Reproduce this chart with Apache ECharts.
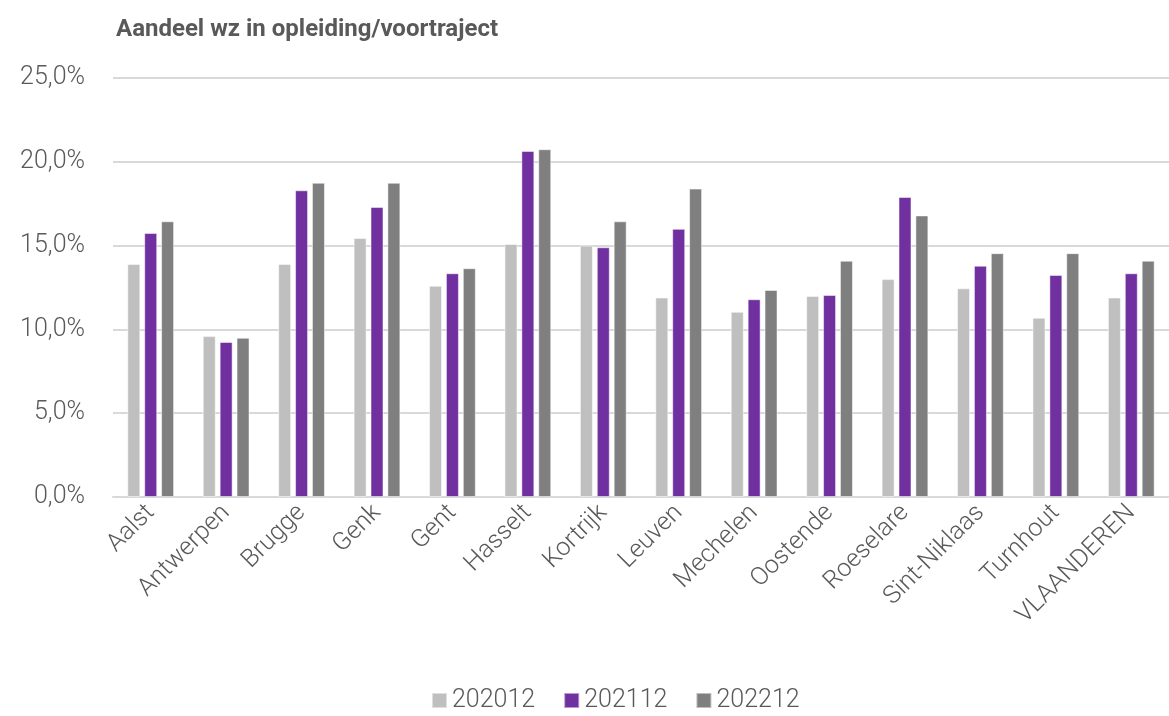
<!DOCTYPE html>
<html>
<head>
<meta charset="utf-8">
<script src="https://cdn.jsdelivr.net/npm/echarts@6/dist/echarts.min.js"></script>
<style>
  html, body { margin: 0; padding: 0; background: #fff; }
  #chart { width: 1169px; height: 716px; }
</style>
</head>
<body>
<div id="chart"></div>
<script>
// regio's
const categories = ['Aalst', 'Antwerpen', 'Brugge', 'Genk', 'Gent', 'Hasselt', 'Kortrijk',
  'Leuven', 'Mechelen', 'Oostende', 'Roeselare', 'Sint-Niklaas', 'Turnhout', 'VLAANDEREN']
// aandeel in % per jaar
const values202012 = [13.9, 9.6, 13.9, 15.45, 12.6, 15.1, 15.0, 11.9, 11.05, 12.0, 13.0, 12.45, 10.7, 11.9]
const values202112 = [15.75, 9.25, 18.3, 17.3, 13.35, 20.65, 14.9, 16.0, 11.8, 12.05, 17.9, 13.8, 13.25, 13.35]
const values202212 = [16.45, 9.5, 18.75, 18.75, 13.65, 20.75, 16.45, 18.4, 12.35, 14.1, 16.8, 14.55, 14.55, 14.1]
const seriesNames = ['202012', '202112', '202212']
const colors = ['#BFBFBF', '#7030A0', '#7F7F7F']

const chart = echarts.init(document.getElementById('chart'), null, { renderer: 'canvas' })
const font = 'Roboto'
const textColor = '#595959'

const allValues = [values202012, values202112, values202212]
const series = allValues.map((vals, i) => ({
  name: seriesNames[i],
  type: 'bar',
  data: vals,
  barGap: '30%',
  barCategoryGap: '38%',
  itemStyle: { color: colors[i], borderColor: 'rgba(255,255,255,0.5)', borderWidth: 1 }
}))

chart.setOption({
  animation: false,
  title: {
    text: 'Aandeel wz in opleiding/voortraject',
    left: 111,
    top: 13,
    textStyle: { fontFamily: font, fontSize: 24, fontWeight: 'bold', color: textColor }
  },
  legend: {
    bottom: -2,
    left: 426,
    itemWidth: 15,
    itemHeight: 15,
    itemGap: 28,
    icon: 'rect',
    textStyle: { fontFamily: font, fontSize: 25, fontWeight: 300, color: textColor }
  },
  grid: { left: 113, right: 0, top: 78, bottom: 219 },
  xAxis: {
    type: 'category',
    data: categories,
    axisLine: { lineStyle: { color: '#D9D9D9', width: 2 } },
    axisTick: { show: false },
    axisLabel: {
      rotate: 45,
      margin: 12,
      fontFamily: font,
      fontSize: 25,
      fontWeight: 300,
      color: textColor
    }
  },
  yAxis: {
    type: 'value',
    min: 0,
    max: 25,
    interval: 5,
    axisLine: { show: false },
    axisTick: { show: false },
    splitLine: { lineStyle: { color: '#D9D9D9', width: 2 } },
    axisLabel: {
      margin: 28,
      fontFamily: font,
      fontSize: 25,
      fontWeight: 300,
      color: textColor,
      formatter: v => v.toFixed(1).replace('.', ',') + '%'
    }
  },
  series: series
})
</script>
</body>
</html>
